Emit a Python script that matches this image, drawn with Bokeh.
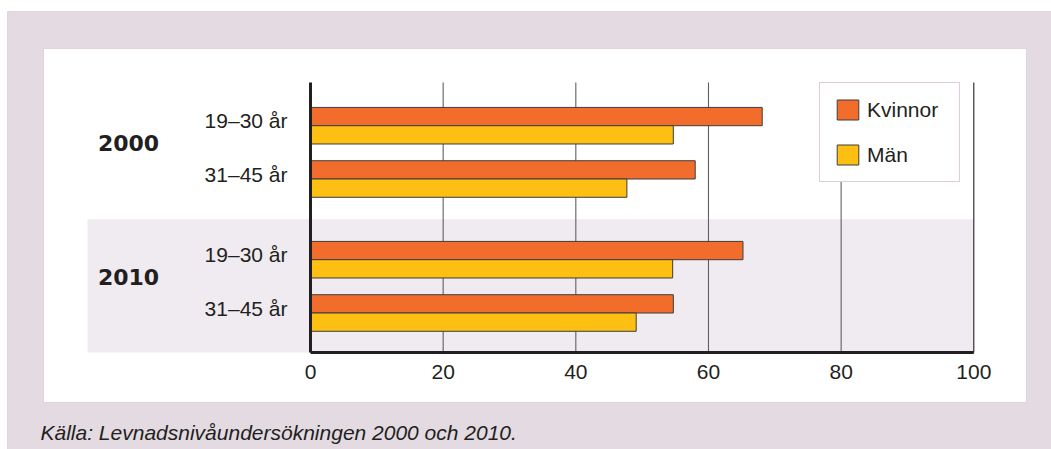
from bokeh.plotting import figure
from bokeh.models import (Range1d, BoxAnnotation, Label, ColumnDataSource, Legend, LegendItem)
from bokeh.embed import file_html
from bokeh.resources import INLINE
from bokeh.core.properties import value

# ---------------- data ----------------
years = ["2000", "2010"]
ages = ["19–30 år", "31–45 år"]
kvinnor = [68.1, 58.0, 65.2, 54.7]   # 2000: 19–30, 31–45 ; 2010: 19–30, 31–45
man = [54.7, 47.7, 54.6, 49.1]
x_ticks = [0, 20, 40, 60, 80, 100]
series_names = ["Kvinnor", "Män"]
caption = "Källa: Levnadsnivåundersökningen 2000 och 2010."

# ---------------- style / layout ----------------
ORANGE = "#f26d2b"
YELLOW = "#fdbf12"
PURPLE_BG = "#e3dae2"
PURPLE_LINE = "#b9a0b7"
BAND = "#efebf0"
TXT = "#231f20"
GRID = "#5f5f61"
FONT = "Liberation Sans"

W, H = 1051, 449
PX_X = 6.633          # pixels per x unit
X0_PX = 310           # canvas px of x = 0
PX_Y = 53.3           # pixels per category row
AXIS_BOTTOM_PX = 352  # canvas px (from top) of axis line
AXIS_HEIGHT_PX = 270
GROUP_PAD = 0.514     # extra gap between year groups (row units)
BAR_H = 0.343

# row positions (row units, upward), top row first
n_rows = len(years) * len(ages)
row_y, row_age, row_group = [], [], []
for gi, yr in enumerate(years):
    for si, ag in enumerate(ages):
        row_y.append((len(years) - 1 - gi) * (len(ages) + GROUP_PAD) + (len(ages) - 1 - si) + 0.5)
        row_age.append(ag)
        row_group.append(gi)
group_y = [sum(y for y, g in zip(row_y, row_group) if g == gi) / len(ages) for gi in range(len(years))]

AXIS_LO = min(row_y) - 39.5 / PX_Y
AXIS_HI = AXIS_LO + AXIS_HEIGHT_PX / PX_Y
y_start = AXIS_LO - (H - AXIS_BOTTOM_PX) / PX_Y
y_end = y_start + H / PX_Y
x_start = -X0_PX / PX_X
x_end = x_start + W / PX_X

src_kv = ColumnDataSource(dict(y=[v + BAR_H / 2 for v in row_y], right=kvinnor))
src_man = ColumnDataSource(dict(y=[v - BAR_H / 2 for v in row_y], right=man))

p = figure(width=W, height=H, output_backend="svg", toolbar_location=None,
           x_range=Range1d(x_start, x_end), y_range=Range1d(y_start, y_end),
           x_axis_location=None, y_axis_location=None, min_border=0)
p.grid.visible = False
p.border_fill_color = "white"
p.background_fill_color = "white"
p.outline_line_color = None

# decorations (backgrounds)
p.add_layout(BoxAnnotation(left=7, right=W + 2, top=11, bottom=H + 2,
                           left_units="canvas", right_units="canvas",
                           top_units="canvas", bottom_units="canvas",
                           fill_color=PURPLE_BG, fill_alpha=1, line_color=PURPLE_LINE,
                           line_width=1, level="image"))
p.add_layout(BoxAnnotation(left=43, right=1026, top=48, bottom=402,
                           left_units="canvas", right_units="canvas",
                           top_units="canvas", bottom_units="canvas",
                           fill_color="white", fill_alpha=1, line_color=PURPLE_LINE,
                           line_width=1, level="image"))
band_top = (row_y[len(ages) - 1] + row_y[len(ages)]) / 2
p.add_layout(BoxAnnotation(left=87, left_units="canvas", right=x_ticks[-1],
                           top=band_top, bottom=AXIS_LO, fill_color=BAND, fill_alpha=1,
                           line_color=None, level="image"))

# grid lines
inner = x_ticks[1:-1]
p.segment(x0=inner, x1=inner, y0=[AXIS_LO] * len(inner), y1=[AXIS_HI] * len(inner),
          line_color=GRID, line_width=1.1)
p.segment(x0=[x_ticks[-1]], x1=[x_ticks[-1]], y0=[AXIS_LO], y1=[AXIS_HI],
          line_color=TXT, line_width=1.1)

# bars
r_kv = p.hbar(y="y", right="right", left=0, height=BAR_H, source=src_kv,
              fill_color=ORANGE, line_color="#3d3d3d", line_width=1)
r_man = p.hbar(y="y", right="right", left=0, height=BAR_H, source=src_man,
               fill_color=YELLOW, line_color="#3d3d3d", line_width=1)

# axis lines
p.segment(x0=[0], x1=[0], y0=[AXIS_LO], y1=[AXIS_HI], line_color=TXT, line_width=3)
p.segment(x0=[x_ticks[0]], x1=[x_ticks[-1]], y0=[AXIS_LO], y1=[AXIS_LO],
          line_color=TXT, line_width=3)

# tick labels
p.text(x=x_ticks, y=[AXIS_LO] * len(x_ticks), text=[str(t) for t in x_ticks],
       y_offset=12, text_align="center", text_baseline="top",
       text_font=value(FONT), text_font_size="21px", text_color=TXT)

# category labels
p.text(x=[0] * n_rows, y=row_y, text=row_age, x_offset=-23, y_offset=-5,
       text_align="right", text_baseline="middle",
       text_font=value(FONT), text_font_size="21px", text_color=TXT)
p.text(x=[0] * len(years), y=group_y, text=years, x_offset=-182, y_offset=-9,
       text_align="center", text_baseline="middle",
       text_font=value("DejaVu Sans"), text_font_style="bold",
       text_font_size="22px", text_color=TXT)

# legend
legend = Legend(items=[LegendItem(label=series_names[0], renderers=[r_kv]),
                       LegendItem(label=series_names[1], renderers=[r_man])],
                location=(819, 267), orientation="vertical",
                padding=14, spacing=20, margin=0,
                glyph_width=27, glyph_height=25, label_standoff=6, label_width=78,
                label_text_font=FONT, label_text_font_size="21px", label_text_color=TXT,
                border_line_color=PURPLE_LINE, border_line_width=1.5,
                background_fill_color="white", background_fill_alpha=1)
p.add_layout(legend)

# caption
p.add_layout(Label(x=40, y=432, x_units="canvas", y_units="canvas", text=caption,
                   text_font=FONT, text_font_style="italic", text_font_size="21px",
                   text_color=TXT, text_baseline="alphabetic"))

open("out.html", "w").write(file_html(p, INLINE))
